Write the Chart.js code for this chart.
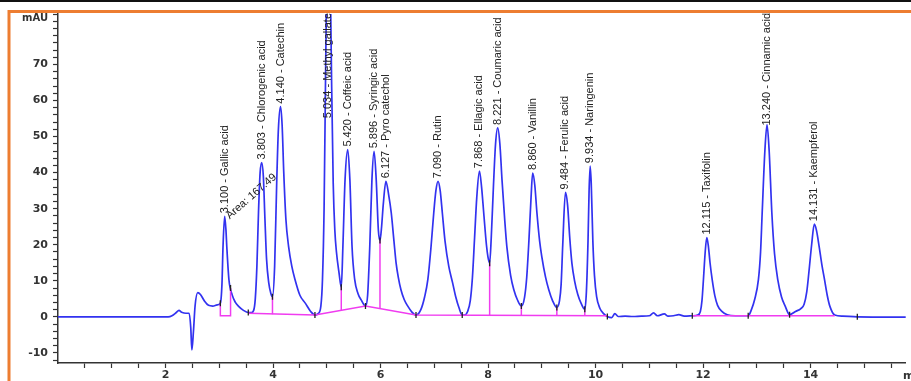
<!DOCTYPE html>
<html>
<head>
<meta charset="utf-8">
<script src="https://cdn.jsdelivr.net/npm/chart.js@4.4.0/dist/chart.umd.min.js"></script>
<style>
  html, body { margin: 0; padding: 0; background: #fff; overflow: hidden; }
  canvas { display: block; }
</style>
</head>
<body>
<canvas id="myChart" width="911" height="381"></canvas>
<script>
// trace: retention time (min) / signal (mAU)
var times = [
  0.00, 1.00, 2.05, 2.12, 2.20, 2.25, 2.30, 2.38, 2.44, 2.47, 2.49, 2.52, 2.55, 2.60, 2.65, 2.72, 2.80, 2.88, 2.96,
  3.02, 3.05, 3.07, 3.10, 3.125, 3.14, 3.18, 3.24, 3.30, 3.36, 3.45, 3.54, 3.60,
  3.64, 3.67, 3.70, 3.73, 3.76, 3.79, 3.82, 3.85, 3.88, 3.92, 3.96, 3.99,
  4.03, 4.07, 4.10, 4.14, 4.17, 4.20, 4.24, 4.29, 4.35, 4.41, 4.50, 4.60, 4.70, 4.78,
  4.84, 4.89, 4.92, 4.95, 4.98, 5.00, 5.03, 5.06, 5.09, 5.12, 5.15, 5.18, 5.23, 5.27,
  5.30, 5.34, 5.39, 5.43, 5.47, 5.52, 5.58, 5.64, 5.72,
  5.76, 5.80, 5.84, 5.88, 5.92, 5.96, 5.99,
  6.02, 6.05, 6.10, 6.15, 6.20, 6.25, 6.29, 6.33, 6.38, 6.44, 6.51, 6.58, 6.66,
  6.75, 6.82, 6.88, 6.94, 6.99, 7.03, 7.07, 7.11, 7.15, 7.20, 7.27, 7.34, 7.40, 7.46, 7.52,
  7.56, 7.62, 7.67, 7.71, 7.75, 7.79, 7.84, 7.88, 7.92, 7.97, 8.00, 8.03,
  8.06, 8.10, 8.14, 8.18, 8.22, 8.26, 8.31, 8.35, 8.42, 8.48, 8.55, 8.62,
  8.68, 8.72, 8.76, 8.80, 8.83, 8.87, 8.91, 8.96, 9.00, 9.07, 9.13, 9.20, 9.28,
  9.33, 9.36, 9.39, 9.44, 9.48, 9.52, 9.56, 9.61, 9.67, 9.73, 9.80,
  9.83, 9.86, 9.88, 9.90, 9.92, 9.95, 9.98, 10.02, 10.08, 10.15, 10.22,
  10.30, 10.36, 10.42, 10.55, 10.70, 10.85, 11.00, 11.08, 11.15, 11.28, 11.35, 11.45, 11.55, 11.65, 11.80,
  11.90, 11.95, 11.98, 12.01, 12.04, 12.07, 12.10, 12.13, 12.17, 12.22, 12.27, 12.35, 12.45, 12.60,
  12.84, 12.90, 12.96, 13.03, 13.07, 13.10, 13.15, 13.19, 13.23, 13.28, 13.33, 13.39, 13.46, 13.53, 13.61,
  13.72, 13.82, 13.88, 13.93, 13.97, 14.02, 14.07, 14.11, 14.16, 14.21, 14.26, 14.31, 14.36, 14.45, 14.60, 14.87, 15.80
];
var signal = [
  0, 0, 0, 0.3, 1.2, 1.8, 1.3, 1.0, 1.0, -3.0, -9.2, -4.0, 3.0, 6.7, 6.2, 4.5, 3.2, 3.0, 3.3,
  3.8, 9.0, 19.5, 27.9, 24.0, 19.5, 10.3, 6.1, 4.0, 2.9, 1.8, 1.2, 1.2,
  1.8, 5.0, 14.0, 29.0, 40.0, 42.8, 39.0, 27.0, 16.0, 9.5, 6.5, 5.6,
  14.0, 38.0, 52.0, 58.3, 53.0, 40.0, 27.0, 19.5, 14.0, 10.3, 6.0, 3.8, 1.5, 0.5,
  0.9, 3.0, 10.3, 30.0, 70.0, 95.0, 118.0, 100.0, 65.0, 37.0, 24.0, 18.0, 12.0, 8.2,
  19.5, 38.0, 46.4, 38.0, 19.5, 10.3, 6.5, 4.7, 3.0,
  6.0, 19.5, 38.0, 45.9, 38.0, 24.0, 21.2,
  25.0, 31.0, 37.6, 34.0, 28.8, 21.0, 14.9, 11.0, 7.5, 4.8, 2.9, 1.4, 0.5,
  2.0, 5.5, 10.3, 19.5, 28.8, 35.0, 37.6, 35.0, 28.8, 21.0, 14.0, 9.5, 5.5, 2.5, 0.5,
  0.5, 1.5, 4.5, 11.0, 22.0, 33.0, 40.4, 36.0, 28.8, 20.0, 16.5, 14.9,
  22.0, 36.0, 48.0, 52.4, 48.0, 38.0, 27.0, 19.5, 11.5, 7.5, 4.6, 3.0,
  5.5, 11.0, 21.0, 33.0, 39.9, 36.5, 28.8, 21.0, 16.7, 11.0, 7.5, 4.5, 2.6,
  4.5, 9.0, 20.0, 34.5, 31.0, 22.0, 14.9, 10.0, 6.2, 3.8, 2.1,
  7.0, 21.0, 35.0, 41.8, 37.0, 21.0, 11.5, 5.6, 2.4, 0.9, 0.1,
  -0.2, 0.9, 0.1, 0.2, 0.1, 0.2, 0.3, 1.1, 0.3, 0.8, 0.2, 0.3, 0.6, 0.2, 0.3,
  0.5, 1.5, 4.5, 11.0, 18.0, 22.0, 19.5, 15.0, 10.3, 5.8, 3.2, 1.5, 0.6, 0.3,
  0.3, 2.0, 4.8, 10.3, 18.0, 28.8, 46.0, 53.3, 46.0, 28.8, 17.5, 10.3, 5.5, 2.9, 0.6,
  1.5, 2.3, 3.5, 7.0, 12.5, 20.0, 25.7, 24.0, 19.5, 14.5, 10.3, 6.0, 2.9, 0.5, 0.2, 0.0, -0.1
];

// identified peaks
var peakTimes = [3.100, 3.803, 4.140, 5.034, 5.420, 5.896, 6.127, 7.090, 7.868, 8.221, 8.860, 9.484, 9.934, 12.115, 13.240, 14.131];
var peakNames = ["Gallic acid", "Chlorogenic acid", "Catechin", "Methyl gallate", "Coffeic acid", "Syringic acid",
  "Pyro catechol", "Rutin", "Ellagic acid", "Coumaric acid", "Vanillin", "Ferulic acid", "Naringenin",
  "Taxifolin", "Cinnamic acid", "Kaempferol"];
var areaNote = "Area: 167.49";

// integration start/end marks
var markTimes = [3.02, 3.21, 3.54, 3.99, 4.78, 5.27, 5.72, 5.99, 6.66, 7.52, 8.03, 8.62, 9.28, 9.80, 10.22, 11.80, 12.84, 13.61, 14.87];
var markValues = [3.8, 8.0, 1.2, 5.6, 0.5, 8.2, 3.0, 21.2, 0.5, 0.5, 14.9, 3.0, 2.6, 2.1, 0.1, 0.3, 0.3, 0.6, 0.0];

// integration baselines and drop lines (min, mAU)
var gallicBox = [[3.02, 3.8], [3.02, 0.3], [3.21, 0.3], [3.21, 8.0]];
var baseA = [[3.54, 1.0], [4.78, 0.5]];
var baseB = [[4.78, 0.5], [5.72, 3.0], [6.66, 0.5], [10.22, 0.3]];
var baseC = [[11.80, 0.3], [14.45, 0.3]];
var dropLines = [[3.99, 5.6, 0.7], [5.27, 8.2, 1.8], [5.99, 21.2, 2.3], [8.03, 14.9, 0.35], [8.62, 3.0, 0.35], [9.28, 2.6, 0.3], [9.80, 2.1, 0.3]];

// axis ticks
var xTickLabels = [2, 4, 6, 8, 10, 12, 14];
var yTickLabels = [-10, 0, 10, 20, 30, 40, 50, 60, 70];

var blue = "#3232f0";
var pink = "#f03cf0";
var axisColor = "#333";
var tickFont = { family: "DejaVu Sans", size: 11, weight: "bold" };

function pinkLine(seg) {
  return {
    data: seg.map(function (p) { return { x: p[0], y: p[1] }; }),
    borderColor: pink, borderWidth: 1.5, pointRadius: 0, tension: 0, order: 1
  };
}

var datasets = [{
  data: times.map(function (t, i) { return { x: t, y: signal[i] }; }),
  borderColor: blue, borderWidth: 1.7, pointRadius: 0,
  cubicInterpolationMode: "monotone", order: 2
}];
[gallicBox, baseA, baseB, baseC].forEach(function (seg) { datasets.push(pinkLine(seg)); });
dropLines.forEach(function (d) { datasets.push(pinkLine([[d[0], d[1]], [d[0], d[2]]])); });
datasets.push({
  data: markTimes.map(function (t, i) { return { x: t, y: markValues[i] }; }),
  showLine: false, pointStyle: "line", rotation: 90, pointRadius: 3,
  borderColor: "#222", borderWidth: 1.3, order: 0
});

// frame, orange border, unit labels
var framePlugin = {
  id: "frame",
  beforeDraw: function (chart) {
    var ctx = chart.ctx;
    ctx.save();
    ctx.fillStyle = "#fff";
    ctx.fillRect(0, 0, chart.width, chart.height);
    ctx.fillStyle = "#111";
    ctx.fillRect(0, 0, chart.width, 2);
    ctx.strokeStyle = "#ed7d31";
    ctx.lineWidth = 3;
    ctx.beginPath();
    ctx.moveTo(9, chart.height);
    ctx.lineTo(9, 11.5);
    ctx.lineTo(chart.width, 11.5);
    ctx.stroke();
    ctx.restore();
  },
  afterDraw: function (chart) {
    var ctx = chart.ctx;
    ctx.save();
    ctx.fillStyle = axisColor;
    ctx.font = "bold 10px 'DejaVu Sans'";
    ctx.textAlign = "right";
    ctx.textBaseline = "middle";
    ctx.fillText("mAU", 48, 18);
    ctx.textAlign = "left";
    ctx.font = "bold 11px 'DejaVu Sans'";
    ctx.fillText("min", 903, 376);
    ctx.restore();
  }
};

// rotated peak names above each apex
var peakLabelPlugin = {
  id: "peakLabels",
  afterDatasetsDraw: function (chart) {
    var ctx = chart.ctx, xs = chart.scales.x, ys = chart.scales.y, area = chart.chartArea;
    ctx.save();
    ctx.fillStyle = "#222";
    ctx.font = "11px 'Liberation Sans Narrow', 'Liberation Sans', sans-serif";
    ctx.textBaseline = "middle";
    ctx.textAlign = "left";
    peakTimes.forEach(function (rt, i) {
      var best = -1;
      times.forEach(function (t, j) {
        if (Math.abs(t - rt) <= 0.08 && (best < 0 || signal[j] > signal[best])) best = j;
      });
      var text = rt.toFixed(3) + " - " + peakNames[i];
      var w = ctx.measureText(text).width;
      var px = xs.getPixelForValue(times[best]);
      var apexY = ys.getPixelForValue(signal[best]);
      var py = Math.max(apexY - 3, area.top + w - 1);
      ctx.save();
      ctx.translate(px, py);
      ctx.rotate(-Math.PI / 2);
      ctx.fillText(text, 0, 0);
      ctx.restore();
      if (i === 0) {
        ctx.save();
        ctx.translate(px + 3, apexY + 1);
        ctx.rotate(-0.72);
        ctx.fillText(areaNote, 0, 0);
        ctx.restore();
      }
    });
    ctx.restore();
  }
};

var ctx = document.getElementById("myChart").getContext("2d");
var myChart = new Chart(ctx, {
  type: "line",
  data: { datasets: datasets },
  options: {
    responsive: false,
    animation: false,
    devicePixelRatio: 1,
    layout: { padding: { left: 0, top: 14, right: 0, bottom: 0 } },
    plugins: { legend: { display: false }, tooltip: { enabled: false } },
    scales: {
      x: {
        type: "linear", min: 0, max: 15.77,
        afterBuildTicks: function (scale) {
          var list = [];
          for (var v = 0.5; v < 15.8; v += 0.5) list.push({ value: v });
          scale.ticks = list;
        },
        afterFit: function (scale) { scale.height = 18; },
        ticks: {
          autoSkip: false, maxRotation: 0, padding: 1, color: axisColor, font: tickFont,
          callback: function (v) { return xTickLabels.indexOf(v) >= 0 ? String(v) : ""; }
        },
        grid: { drawOnChartArea: false, tickLength: 5, tickColor: axisColor, tickWidth: 1.2 },
        border: { color: axisColor, width: 1.5 }
      },
      y: {
        min: -12.8, max: 84,
        afterBuildTicks: function (scale) {
          var list = [];
          for (var v = -12; v <= 84; v += 2) list.push({ value: v });
          scale.ticks = list;
        },
        afterFit: function (scale) { scale.width = 58; },
        ticks: {
          autoSkip: false, padding: 5, color: axisColor, font: tickFont,
          callback: function (v) { return yTickLabels.indexOf(v) >= 0 ? String(v) : ""; }
        },
        grid: { drawOnChartArea: false, tickLength: 5, tickColor: axisColor, tickWidth: 1.2 },
        border: { color: axisColor, width: 1.5 }
      }
    }
  },
  plugins: [framePlugin, peakLabelPlugin]
});
</script>
</body>
</html>
